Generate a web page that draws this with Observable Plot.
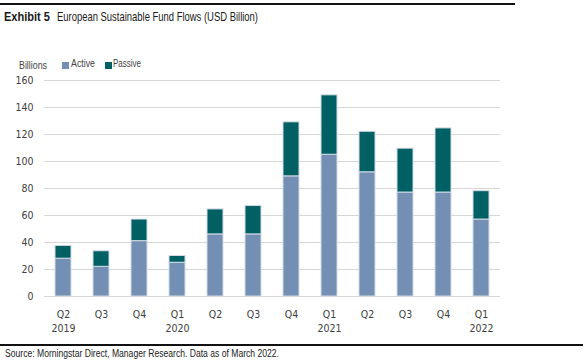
<!DOCTYPE html>
<html>
<head>
<meta charset="utf-8">
<script src="https://cdn.jsdelivr.net/npm/d3@7"></script>
<script src="https://cdn.jsdelivr.net/npm/@observablehq/plot@0.6"></script>
<style>
  html, body { margin: 0; padding: 0; background: #fff; }
  #wrap { position: relative; width: 588px; height: 361px; overflow: hidden;
    font-family: "Liberation Sans", Arial, sans-serif; color: #222; }
  .topline { position: absolute; left: 0; top: 3px; width: 515px; height: 2px; background: #111; }
  .fit { position: absolute; white-space: nowrap; transform-origin: 0 0; display: inline-block; }
  #chart { position: absolute; left: 0; top: 60px; }
  .bottomline { position: absolute; left: 0; top: 344px; width: 583px; height: 1.5px; background: #111; }
  .sq { position: absolute; width: 7px; height: 7px; }
</style>
</head>
<body>
<div id="wrap">
  <div class="topline"></div>
  <div class="fit" data-w="46" style="left:4px;top:9px;font-size:13px;font-weight:bold;color:#1a1a1a">Exhibit 5</div>
  <div class="fit" data-w="201" style="left:57px;top:9px;font-size:13px;color:#1a1a1a">European Sustainable Fund Flows (USD Billion)</div>
  <div class="fit" data-w="28" style="left:19px;top:59px;font-size:11px;color:#444">Billions</div>
  <div id="chart"></div>
  <div class="bottomline"></div>
  <div class="fit" data-w="274" style="left:5px;top:348px;font-size:10px;color:#222">Source: Morningstar Direct, Manager Research. Data as of March 2022.</div>
</div>
<script>
const periods = ["2019Q2","2019Q3","2019Q4","2020Q1","2020Q2","2020Q3","2020Q4","2021Q1","2021Q2","2021Q3","2021Q4","2022Q1"];
const tickLabels = ["Q2\n2019","Q3","Q4","Q1\n2020","Q2","Q3","Q4","Q1\n2021","Q2","Q3","Q4","Q1\n2022"];
const active = [28, 22, 41, 25, 46, 46, 89, 105, 92, 77, 77, 57];
const passive = [9.5, 11.5, 16, 5, 18.5, 21, 40, 44, 30, 32.5, 47.5, 21];
const seriesNames = ["Active", "Passive"];
const seriesColors = ["#7390b4", "#006064"];
const yTicks = [0, 20, 40, 60, 80, 100, 120, 140, 160];

const rows = [];
periods.forEach((p, i) => rows.push({period: p, series: "Active", value: active[i]}));
periods.forEach((p, i) => rows.push({period: p, series: "Passive", value: passive[i]}));

// legend (HTML)
const wrap = document.getElementById("wrap");
const legendPos = [{sq: 62, tx: 71, w: 24}, {sq: 105, tx: 113, w: 28}];
seriesNames.forEach((s, i) => {
  const sq = document.createElement("div");
  sq.className = "sq";
  sq.style.left = legendPos[i].sq + "px";
  sq.style.top = "62px";
  sq.style.background = seriesColors[i];
  wrap.appendChild(sq);
  const t = document.createElement("div");
  t.className = "fit";
  t.dataset.w = legendPos[i].w;
  t.style.left = legendPos[i].tx + "px";
  t.style.top = "57px";
  t.style.fontSize = "11px";
  t.style.color = "#444";
  t.textContent = s;
  wrap.appendChild(t);
});

// condense HTML texts to reference widths
document.querySelectorAll(".fit").forEach(el => {
  const w = el.getBoundingClientRect().width;
  const target = +el.dataset.w;
  if (w > 0 && target) el.style.transform = `scaleX(${target / w})`;
});

const labelOf = new Map(periods.map((p, i) => [p, tickLabels[i]]));
const tickFont = '"DejaVu Sans Condensed", "Liberation Sans", sans-serif';

const chart = Plot.plot({
  width: 588,
  height: 280,
  marginTop: 20,
  marginBottom: 44,
  marginLeft: 44,
  marginRight: 88,
  style: {fontFamily: tickFont, fontSize: "10.5px", color: "#404040", background: "transparent"},
  x: {domain: periods, paddingInner: 0.58, paddingOuter: 0.29, label: null},
  y: {domain: [0, 160], label: null},
  color: {domain: seriesNames, range: seriesColors},
  marks: [
    Plot.ruleY(yTicks, {stroke: "#d6d6d6", strokeWidth: 1}),
    Plot.barY(rows, {x: "period", y: "value", fill: "series", stroke: "#d3dbe6", strokeWidth: 1, order: seriesNames}),
    Plot.axisY({ticks: yTicks, tickSize: 0, tickPadding: 11, label: null, fontSize: 10.5}),
    Plot.axisX({tickSize: 0, tickPadding: 11, label: null, lineHeight: 1.35, fontSize: 10.5, tickFormat: d => labelOf.get(d)})
  ]
});
document.getElementById("chart").appendChild(chart);
</script>
</body>
</html>
